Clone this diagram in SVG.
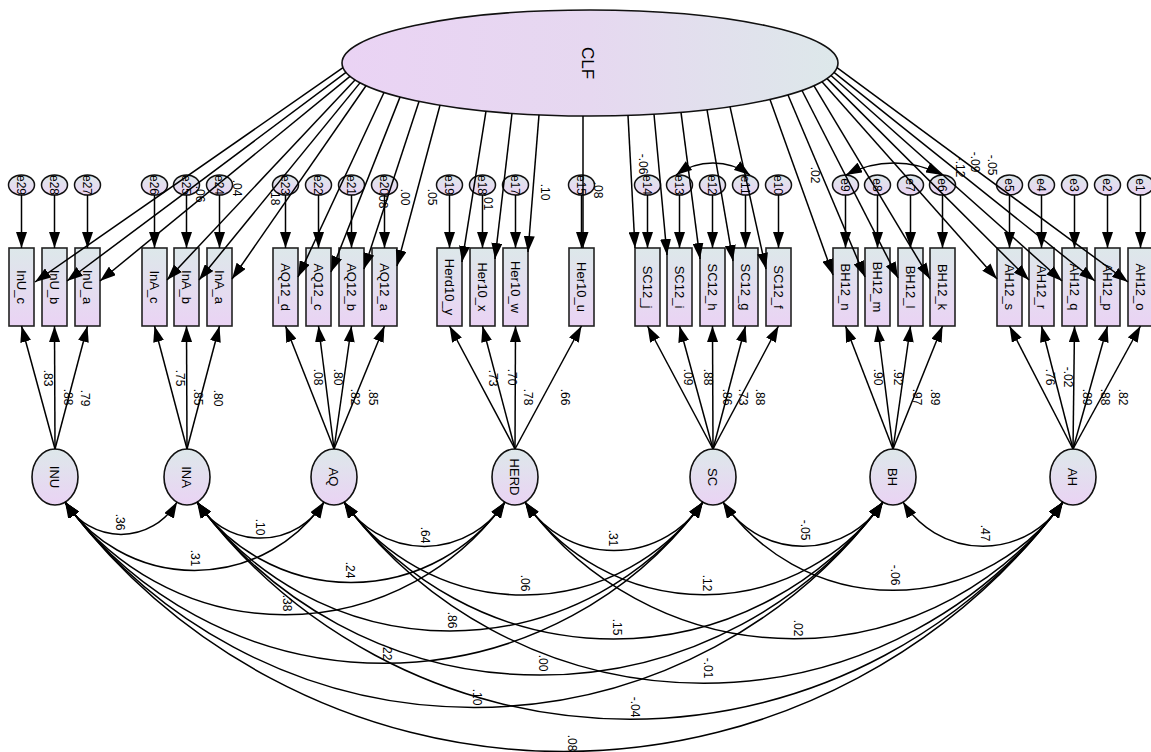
<svg xmlns="http://www.w3.org/2000/svg" width="1151" height="752" viewBox="0 0 1151 752">
<defs>
<linearGradient id="gV" x1="0" y1="0" x2="0" y2="1"><stop offset="0" stop-color="#dde8ea"/><stop offset="1" stop-color="#ead3f4"/></linearGradient>
<linearGradient id="gH" x1="0" y1="0" x2="1" y2="0"><stop offset="0" stop-color="#ead3f4"/><stop offset="0.5" stop-color="#e6d8f0"/><stop offset="1" stop-color="#dde8ea"/></linearGradient>
<marker id="ah" viewBox="0 0 16 11" refX="16" refY="5.5" markerWidth="16" markerHeight="11" markerUnits="userSpaceOnUse" orient="auto-start-reverse"><path d="M0,0 L16,5.5 L0,11 z" fill="#000"/></marker>
</defs>
<style>
.box{fill:url(#gV);stroke:#222;stroke-width:1.6}
.lat{fill:url(#gV);stroke:#111;stroke-width:1.6}
.clf{fill:url(#gH);stroke:#111;stroke-width:1.6}
.err{fill:url(#gV);stroke:#111;stroke-width:1.5}
.t{font-family:"Liberation Sans",Arial,sans-serif;font-size:13px;text-anchor:middle;fill:#000}
.big{font-family:"Liberation Sans",Arial,sans-serif;font-size:17px;text-anchor:middle;fill:#000}
.s{font-family:"Liberation Sans",Arial,sans-serif;font-size:12px;text-anchor:middle;fill:#000}
.p{fill:none;stroke:#000;stroke-width:1.5;marker-end:url(#ah)}
.c{fill:none;stroke:#000;stroke-width:1.5;marker-start:url(#ah);marker-end:url(#ah)}
</style>
<rect width="1151" height="752" fill="#fff"/>

<g id="CLF"><ellipse class="clf" cx="590" cy="63" rx="248" ry="53"/><text class="big" transform="translate(588,63) rotate(90)" dy="0.35em">CLF</text></g>

<g id="INU"><ellipse class="lat" cx="55" cy="477" rx="23" ry="28"/><text class="t" transform="translate(55,477) rotate(90)" dy="0.35em">INU</text></g>
<g id="INA"><ellipse class="lat" cx="187" cy="477" rx="23" ry="28"/><text class="t" transform="translate(187,477) rotate(90)" dy="0.35em">INA</text></g>
<g id="AQ"><ellipse class="lat" cx="334" cy="477" rx="23" ry="28"/><text class="t" transform="translate(334,477) rotate(90)" dy="0.35em">AQ</text></g>
<g id="HERD"><ellipse class="lat" cx="515" cy="477" rx="23" ry="28"/><text class="t" transform="translate(515,477) rotate(90)" dy="0.35em">HERD</text></g>
<g id="SC"><ellipse class="lat" cx="713" cy="477" rx="23" ry="28"/><text class="t" transform="translate(713,477) rotate(90)" dy="0.35em">SC</text></g>
<g id="BH"><ellipse class="lat" cx="893" cy="477" rx="23" ry="28"/><text class="t" transform="translate(893,477) rotate(90)" dy="0.35em">BH</text></g>
<g id="AH"><ellipse class="lat" cx="1073" cy="477" rx="23" ry="28"/><text class="t" transform="translate(1073,477) rotate(90)" dy="0.35em">AH</text></g>

<g id="InU_c"><rect class="box" x="9" y="248" width="25" height="78"/><text class="t" transform="translate(21.5,287) rotate(90)" dy="0.35em">InU_c</text></g>
<g id="InU_b"><rect class="box" x="42" y="248" width="25" height="78"/><text class="t" transform="translate(54.5,287) rotate(90)" dy="0.35em">InU_b</text></g>
<g id="InU_a"><rect class="box" x="75" y="248" width="25" height="78"/><text class="t" transform="translate(87.5,287) rotate(90)" dy="0.35em">InU_a</text></g>
<g id="InA_c"><rect class="box" x="142" y="248" width="25" height="78"/><text class="t" transform="translate(154.5,287) rotate(90)" dy="0.35em">InA_c</text></g>
<g id="InA_b"><rect class="box" x="174" y="248" width="25" height="78"/><text class="t" transform="translate(186.5,287) rotate(90)" dy="0.35em">InA_b</text></g>
<g id="InA_a"><rect class="box" x="207" y="248" width="25" height="78"/><text class="t" transform="translate(219.5,287) rotate(90)" dy="0.35em">InA_a</text></g>
<g id="AQ12_d"><rect class="box" x="273" y="248" width="25" height="78"/><text class="t" transform="translate(285.5,287) rotate(90)" dy="0.35em">AQ12_d</text></g>
<g id="AQ12_c"><rect class="box" x="306" y="248" width="25" height="78"/><text class="t" transform="translate(318.5,287) rotate(90)" dy="0.35em">AQ12_c</text></g>
<g id="AQ12_b"><rect class="box" x="339" y="248" width="25" height="78"/><text class="t" transform="translate(351.5,287) rotate(90)" dy="0.35em">AQ12_b</text></g>
<g id="AQ12_a"><rect class="box" x="372" y="248" width="25" height="78"/><text class="t" transform="translate(384.5,287) rotate(90)" dy="0.35em">AQ12_a</text></g>
<g id="Herd10_y"><rect class="box" x="437" y="248" width="25" height="78"/><text class="t" transform="translate(449.5,287) rotate(90)" dy="0.35em">Herd10_y</text></g>
<g id="Her10_x"><rect class="box" x="470" y="248" width="25" height="78"/><text class="t" transform="translate(482.5,287) rotate(90)" dy="0.35em">Her10_x</text></g>
<g id="Her10_w"><rect class="box" x="503" y="248" width="25" height="78"/><text class="t" transform="translate(515.5,287) rotate(90)" dy="0.35em">Her10_w</text></g>
<g id="Her10_u"><rect class="box" x="569" y="248" width="25" height="78"/><text class="t" transform="translate(581.5,287) rotate(90)" dy="0.35em">Her10_u</text></g>
<g id="SC12_j"><rect class="box" x="635" y="248" width="25" height="78"/><text class="t" transform="translate(647.5,287) rotate(90)" dy="0.35em">SC12_j</text></g>
<g id="SC12_i"><rect class="box" x="667" y="248" width="25" height="78"/><text class="t" transform="translate(679.5,287) rotate(90)" dy="0.35em">SC12_i</text></g>
<g id="SC12_h"><rect class="box" x="700" y="248" width="25" height="78"/><text class="t" transform="translate(712.5,287) rotate(90)" dy="0.35em">SC12_h</text></g>
<g id="SC12_g"><rect class="box" x="733" y="248" width="25" height="78"/><text class="t" transform="translate(745.5,287) rotate(90)" dy="0.35em">SC12_g</text></g>
<g id="SC12_f"><rect class="box" x="766" y="248" width="25" height="78"/><text class="t" transform="translate(778.5,287) rotate(90)" dy="0.35em">SC12_f</text></g>
<g id="BH12_n"><rect class="box" x="833" y="248" width="25" height="78"/><text class="t" transform="translate(845.5,287) rotate(90)" dy="0.35em">BH12_n</text></g>
<g id="BH12_m"><rect class="box" x="865" y="248" width="25" height="78"/><text class="t" transform="translate(877.5,287) rotate(90)" dy="0.35em">BH12_m</text></g>
<g id="BH12_l"><rect class="box" x="898" y="248" width="25" height="78"/><text class="t" transform="translate(910.5,287) rotate(90)" dy="0.35em">BH12_l</text></g>
<g id="BH12_k"><rect class="box" x="930" y="248" width="25" height="78"/><text class="t" transform="translate(942.5,287) rotate(90)" dy="0.35em">BH12_k</text></g>
<g id="AH12_s"><rect class="box" x="997" y="248" width="25" height="78"/><text class="t" transform="translate(1009.5,287) rotate(90)" dy="0.35em">AH12_s</text></g>
<g id="AH12_r"><rect class="box" x="1029" y="248" width="25" height="78"/><text class="t" transform="translate(1041.5,287) rotate(90)" dy="0.35em">AH12_r</text></g>
<g id="AH12_q"><rect class="box" x="1062" y="248" width="25" height="78"/><text class="t" transform="translate(1074.5,287) rotate(90)" dy="0.35em">AH12_q</text></g>
<g id="AH12_p"><rect class="box" x="1095" y="248" width="25" height="78"/><text class="t" transform="translate(1107.5,287) rotate(90)" dy="0.35em">AH12_p</text></g>
<g id="AH12_o"><rect class="box" x="1128" y="248" width="25" height="78"/><text class="t" transform="translate(1140.5,287) rotate(90)" dy="0.35em">AH12_o</text></g>

<g id="e29"><ellipse class="err" cx="21.5" cy="185" rx="13" ry="10"/><text class="s" transform="translate(21.5,185) rotate(90)" dy="0.35em">e29</text></g>
<g id="e28"><ellipse class="err" cx="54.5" cy="185" rx="13" ry="10"/><text class="s" transform="translate(54.5,185) rotate(90)" dy="0.35em">e28</text></g>
<g id="e27"><ellipse class="err" cx="87.5" cy="185" rx="13" ry="10"/><text class="s" transform="translate(87.5,185) rotate(90)" dy="0.35em">e27</text></g>
<g id="e26"><ellipse class="err" cx="154.5" cy="185" rx="13" ry="10"/><text class="s" transform="translate(154.5,185) rotate(90)" dy="0.35em">e26</text></g>
<g id="e25"><ellipse class="err" cx="186.5" cy="185" rx="13" ry="10"/><text class="s" transform="translate(186.5,185) rotate(90)" dy="0.35em">e25</text></g>
<g id="e24"><ellipse class="err" cx="219.5" cy="185" rx="13" ry="10"/><text class="s" transform="translate(219.5,185) rotate(90)" dy="0.35em">e24</text></g>
<g id="e23"><ellipse class="err" cx="285.5" cy="185" rx="13" ry="10"/><text class="s" transform="translate(285.5,185) rotate(90)" dy="0.35em">e23</text></g>
<g id="e22"><ellipse class="err" cx="318.5" cy="185" rx="13" ry="10"/><text class="s" transform="translate(318.5,185) rotate(90)" dy="0.35em">e22</text></g>
<g id="e21"><ellipse class="err" cx="351.5" cy="185" rx="13" ry="10"/><text class="s" transform="translate(351.5,185) rotate(90)" dy="0.35em">e21</text></g>
<g id="e20"><ellipse class="err" cx="384.5" cy="185" rx="13" ry="10"/><text class="s" transform="translate(384.5,185) rotate(90)" dy="0.35em">e20</text></g>
<g id="e19"><ellipse class="err" cx="449.5" cy="185" rx="13" ry="10"/><text class="s" transform="translate(449.5,185) rotate(90)" dy="0.35em">e19</text></g>
<g id="e18"><ellipse class="err" cx="482.5" cy="185" rx="13" ry="10"/><text class="s" transform="translate(482.5,185) rotate(90)" dy="0.35em">e18</text></g>
<g id="e17"><ellipse class="err" cx="515.5" cy="185" rx="13" ry="10"/><text class="s" transform="translate(515.5,185) rotate(90)" dy="0.35em">e17</text></g>
<g id="e15"><ellipse class="err" cx="581.5" cy="185" rx="13" ry="10"/><text class="s" transform="translate(581.5,185) rotate(90)" dy="0.35em">e15</text></g>
<g id="e14"><ellipse class="err" cx="647.5" cy="185" rx="13" ry="10"/><text class="s" transform="translate(647.5,185) rotate(90)" dy="0.35em">e14</text></g>
<g id="e13"><ellipse class="err" cx="679.5" cy="185" rx="13" ry="10"/><text class="s" transform="translate(679.5,185) rotate(90)" dy="0.35em">e13</text></g>
<g id="e12"><ellipse class="err" cx="712.5" cy="185" rx="13" ry="10"/><text class="s" transform="translate(712.5,185) rotate(90)" dy="0.35em">e12</text></g>
<g id="e11"><ellipse class="err" cx="745.5" cy="185" rx="13" ry="10"/><text class="s" transform="translate(745.5,185) rotate(90)" dy="0.35em">e11</text></g>
<g id="e10"><ellipse class="err" cx="778.5" cy="185" rx="13" ry="10"/><text class="s" transform="translate(778.5,185) rotate(90)" dy="0.35em">e10</text></g>
<g id="e9"><ellipse class="err" cx="845.5" cy="185" rx="13" ry="10"/><text class="s" transform="translate(845.5,185) rotate(90)" dy="0.35em">e9</text></g>
<g id="e8"><ellipse class="err" cx="877.5" cy="185" rx="13" ry="10"/><text class="s" transform="translate(877.5,185) rotate(90)" dy="0.35em">e8</text></g>
<g id="e7"><ellipse class="err" cx="910.5" cy="185" rx="13" ry="10"/><text class="s" transform="translate(910.5,185) rotate(90)" dy="0.35em">e7</text></g>
<g id="e6"><ellipse class="err" cx="942.5" cy="185" rx="13" ry="10"/><text class="s" transform="translate(942.5,185) rotate(90)" dy="0.35em">e6</text></g>
<g id="e5"><ellipse class="err" cx="1009.5" cy="185" rx="13" ry="10"/><text class="s" transform="translate(1009.5,185) rotate(90)" dy="0.35em">e5</text></g>
<g id="e4"><ellipse class="err" cx="1041.5" cy="185" rx="13" ry="10"/><text class="s" transform="translate(1041.5,185) rotate(90)" dy="0.35em">e4</text></g>
<g id="e3"><ellipse class="err" cx="1074.5" cy="185" rx="13" ry="10"/><text class="s" transform="translate(1074.5,185) rotate(90)" dy="0.35em">e3</text></g>
<g id="e2"><ellipse class="err" cx="1107.5" cy="185" rx="13" ry="10"/><text class="s" transform="translate(1107.5,185) rotate(90)" dy="0.35em">e2</text></g>
<g id="e1"><ellipse class="err" cx="1140.5" cy="185" rx="13" ry="10"/><text class="s" transform="translate(1140.5,185) rotate(90)" dy="0.35em">e1</text></g>

<g id="connectors">
<line class="p" x1="343" y1="67.7" x2="35" y2="282"/>
<line class="p" x1="346" y1="72.4" x2="67" y2="281"/>
<line class="p" x1="350" y1="76.3" x2="100" y2="281"/>
<line class="p" x1="355" y1="79.9" x2="167" y2="280"/>
<line class="p" x1="360" y1="82.9" x2="199" y2="280"/>
<line class="p" x1="366" y1="85.8" x2="232" y2="279"/>
<line class="p" x1="384" y1="92.5" x2="298" y2="277"/>
<line class="p" x1="400" y1="97.1" x2="331" y2="272"/>
<line class="p" x1="419" y1="101.4" x2="364" y2="269"/>
<line class="p" x1="440" y1="105.2" x2="397" y2="266"/>
<line class="p" x1="486" y1="111.1" x2="462" y2="262"/>
<line class="p" x1="512" y1="113.3" x2="495" y2="259"/>
<line class="p" x1="539" y1="114.9" x2="528" y2="252"/>
<line class="p" x1="583" y1="116" x2="583" y2="248"/>
<line class="p" x1="628" y1="115.4" x2="635" y2="248"/>
<line class="p" x1="654" y1="114.2" x2="667" y2="255"/>
<line class="p" x1="681" y1="112.3" x2="700" y2="259"/>
<line class="p" x1="707" y1="109.7" x2="733" y2="261"/>
<line class="p" x1="730" y1="106.7" x2="766" y2="269"/>
<line class="p" x1="770" y1="99.5" x2="833" y2="275"/>
<line class="p" x1="788" y1="95" x2="865" y2="277"/>
<line class="p" x1="802" y1="90.5" x2="898" y2="278"/>
<line class="p" x1="814" y1="85.8" x2="930" y2="279"/>
<line class="p" x1="822" y1="81.8" x2="997" y2="279"/>
<line class="p" x1="827" y1="78.6" x2="1029" y2="280"/>
<line class="p" x1="831" y1="75.5" x2="1062" y2="281"/>
<line class="p" x1="834" y1="72.4" x2="1095" y2="281"/>
<line class="p" x1="837" y1="67.7" x2="1128" y2="282"/>
<line class="p" x1="21.5" y1="195" x2="21.5" y2="248"/><line class="p" x1="54.5" y1="195" x2="54.5" y2="248"/><line class="p" x1="87.5" y1="195" x2="87.5" y2="248"/>
<line class="p" x1="154.5" y1="195" x2="154.5" y2="248"/><line class="p" x1="186.5" y1="195" x2="186.5" y2="248"/><line class="p" x1="219.5" y1="195" x2="219.5" y2="248"/>
<line class="p" x1="285.5" y1="195" x2="285.5" y2="248"/><line class="p" x1="318.5" y1="195" x2="318.5" y2="248"/><line class="p" x1="351.5" y1="195" x2="351.5" y2="248"/><line class="p" x1="384.5" y1="195" x2="384.5" y2="248"/>
<line class="p" x1="449.5" y1="195" x2="449.5" y2="248"/><line class="p" x1="482.5" y1="195" x2="482.5" y2="248"/><line class="p" x1="515.5" y1="195" x2="515.5" y2="248"/><line class="p" x1="581.5" y1="195" x2="581.5" y2="248"/>
<line class="p" x1="647.5" y1="195" x2="647.5" y2="248"/><line class="p" x1="679.5" y1="195" x2="679.5" y2="248"/><line class="p" x1="712.5" y1="195" x2="712.5" y2="248"/><line class="p" x1="745.5" y1="195" x2="745.5" y2="248"/><line class="p" x1="778.5" y1="195" x2="778.5" y2="248"/>
<line class="p" x1="845.5" y1="195" x2="845.5" y2="248"/><line class="p" x1="877.5" y1="195" x2="877.5" y2="248"/><line class="p" x1="910.5" y1="195" x2="910.5" y2="248"/><line class="p" x1="942.5" y1="195" x2="942.5" y2="248"/>
<line class="p" x1="1009.5" y1="195" x2="1009.5" y2="248"/><line class="p" x1="1041.5" y1="195" x2="1041.5" y2="248"/><line class="p" x1="1074.5" y1="195" x2="1074.5" y2="248"/><line class="p" x1="1107.5" y1="195" x2="1107.5" y2="248"/><line class="p" x1="1140.5" y1="195" x2="1140.5" y2="248"/>
<line class="p" x1="55" y1="449" x2="21.5" y2="326"/><line class="p" x1="55" y1="449" x2="54.5" y2="326"/><line class="p" x1="55" y1="449" x2="87.5" y2="326"/>
<line class="p" x1="187" y1="449" x2="154.5" y2="326"/><line class="p" x1="187" y1="449" x2="186.5" y2="326"/><line class="p" x1="187" y1="449" x2="219.5" y2="326"/>
<line class="p" x1="334" y1="449" x2="285.5" y2="326"/><line class="p" x1="334" y1="449" x2="318.5" y2="326"/><line class="p" x1="334" y1="449" x2="351.5" y2="326"/><line class="p" x1="334" y1="449" x2="384.5" y2="326"/>
<line class="p" x1="515" y1="449" x2="449.5" y2="326"/><line class="p" x1="515" y1="449" x2="482.5" y2="326"/><line class="p" x1="515" y1="449" x2="515.5" y2="326"/><line class="p" x1="515" y1="449" x2="581.5" y2="326"/>
<line class="p" x1="713" y1="449" x2="647.5" y2="326"/><line class="p" x1="713" y1="449" x2="679.5" y2="326"/><line class="p" x1="713" y1="449" x2="712.5" y2="326"/><line class="p" x1="713" y1="449" x2="745.5" y2="326"/><line class="p" x1="713" y1="449" x2="778.5" y2="326"/>
<line class="p" x1="893" y1="449" x2="845.5" y2="326"/><line class="p" x1="893" y1="449" x2="877.5" y2="326"/><line class="p" x1="893" y1="449" x2="910.5" y2="326"/><line class="p" x1="893" y1="449" x2="942.5" y2="326"/>
<line class="p" x1="1073" y1="449" x2="1009.5" y2="326"/><line class="p" x1="1073" y1="449" x2="1041.5" y2="326"/><line class="p" x1="1073" y1="449" x2="1074.5" y2="326"/><line class="p" x1="1073" y1="449" x2="1107.5" y2="326"/><line class="p" x1="1073" y1="449" x2="1140.5" y2="326"/>
<path class="c" d="M676,175 A63,63 0 0 1 750,175"/>
<path class="c" d="M846,175 A102,102 0 0 1 942,175"/>
<path class="c" d="M65,502 A64.6,64.6 0 0 0 177,502"/>
<path class="c" d="M65,502 A156.7,156.7 0 0 0 324,502"/>
<path class="c" d="M65,502 A270.9,270.9 0 0 0 505,502"/>
<path class="c" d="M65,502 A396.1,396.1 0 0 0 703,502"/>
<path class="c" d="M65,502 A509.9,509.9 0 0 0 883,502"/>
<path class="c" d="M65,502 A623.7,623.7 0 0 0 1063,502"/>
<path class="c" d="M197,502 A73.9,73.9 0 0 0 324,502"/>
<path class="c" d="M197,502 A187.6,187.6 0 0 0 505,502"/>
<path class="c" d="M197,502 A312.6,312.6 0 0 0 703,502"/>
<path class="c" d="M197,502 A426.4,426.4 0 0 0 883,502"/>
<path class="c" d="M197,502 A540.2,540.2 0 0 0 1063,502"/>
<path class="c" d="M344,502 A95.2,95.2 0 0 0 505,502"/>
<path class="c" d="M344,502 A219.7,219.7 0 0 0 703,502"/>
<path class="c" d="M344,502 A333.6,333.6 0 0 0 883,502"/>
<path class="c" d="M344,502 A447.2,447.2 0 0 0 1063,502"/>
<path class="c" d="M525,502 A105.8,105.8 0 0 0 703,502"/>
<path class="c" d="M525,502 A219.2,219.2 0 0 0 883,502"/>
<path class="c" d="M525,502 A332.9,332.9 0 0 0 1063,502"/>
<path class="c" d="M723,502 A94.5,94.5 0 0 0 883,502"/>
<path class="c" d="M723,502 A207.8,207.8 0 0 0 1063,502"/>
<path class="c" d="M903,502 A94.5,94.5 0 0 0 1063,502"/>
</g>

<g id="labels">
<text class="s" transform="translate(48,378) rotate(90)" dy="0.35em">.83</text>
<text class="s" transform="translate(68,397) rotate(90)" dy="0.35em">.88</text>
<text class="s" transform="translate(85,398) rotate(90)" dy="0.35em">.79</text>
<text class="s" transform="translate(180,378) rotate(90)" dy="0.35em">.75</text>
<text class="s" transform="translate(198,397) rotate(90)" dy="0.35em">.85</text>
<text class="s" transform="translate(218,398) rotate(90)" dy="0.35em">.80</text>
<text class="s" transform="translate(318,377) rotate(90)" dy="0.35em">.08</text>
<text class="s" transform="translate(338,377) rotate(90)" dy="0.35em">.80</text>
<text class="s" transform="translate(355,397) rotate(90)" dy="0.35em">.82</text>
<text class="s" transform="translate(373,397) rotate(90)" dy="0.35em">.85</text>
<text class="s" transform="translate(493,378) rotate(90)" dy="0.35em">.73</text>
<text class="s" transform="translate(512,377) rotate(90)" dy="0.35em">.70</text>
<text class="s" transform="translate(528,397) rotate(90)" dy="0.35em">.78</text>
<text class="s" transform="translate(565,397) rotate(90)" dy="0.35em">.66</text>
<text class="s" transform="translate(688,377) rotate(90)" dy="0.35em">.09</text>
<text class="s" transform="translate(708,377) rotate(90)" dy="0.35em">.88</text>
<text class="s" transform="translate(727,397) rotate(90)" dy="0.35em">.86</text>
<text class="s" transform="translate(743,397) rotate(90)" dy="0.35em">.73</text>
<text class="s" transform="translate(760,397) rotate(90)" dy="0.35em">.88</text>
<text class="s" transform="translate(878,377) rotate(90)" dy="0.35em">.90</text>
<text class="s" transform="translate(898,377) rotate(90)" dy="0.35em">.92</text>
<text class="s" transform="translate(917,397) rotate(90)" dy="0.35em">.97</text>
<text class="s" transform="translate(935,397) rotate(90)" dy="0.35em">.89</text>
<text class="s" transform="translate(1050,377) rotate(90)" dy="0.35em">.76</text>
<text class="s" transform="translate(1068,377) rotate(90)" dy="0.35em">-.02</text>
<text class="s" transform="translate(1087,397) rotate(90)" dy="0.35em">.89</text>
<text class="s" transform="translate(1105,397) rotate(90)" dy="0.35em">.88</text>
<text class="s" transform="translate(1123,397) rotate(90)" dy="0.35em">.82</text>
<text class="s" transform="translate(120,522) rotate(90)" dy="0.35em">.36</text>
<text class="s" transform="translate(260,527) rotate(90)" dy="0.35em">.10</text>
<text class="s" transform="translate(425,535) rotate(90)" dy="0.35em">.64</text>
<text class="s" transform="translate(613,538) rotate(90)" dy="0.35em">.31</text>
<text class="s" transform="translate(805,530) rotate(90)" dy="0.35em">-.05</text>
<text class="s" transform="translate(985,533) rotate(90)" dy="0.35em">.47</text>
<text class="s" transform="translate(195,558) rotate(90)" dy="0.35em">.31</text>
<text class="s" transform="translate(350,570) rotate(90)" dy="0.35em">.24</text>
<text class="s" transform="translate(525,583) rotate(90)" dy="0.35em">.06</text>
<text class="s" transform="translate(707,583) rotate(90)" dy="0.35em">.12</text>
<text class="s" transform="translate(895,575) rotate(90)" dy="0.35em">-.06</text>
<text class="s" transform="translate(287,603) rotate(90)" dy="0.35em">.38</text>
<text class="s" transform="translate(452,620) rotate(90)" dy="0.35em">.86</text>
<text class="s" transform="translate(617,627) rotate(90)" dy="0.35em">.15</text>
<text class="s" transform="translate(798,628) rotate(90)" dy="0.35em">.02</text>
<text class="s" transform="translate(387,652) rotate(90)" dy="0.35em">.22</text>
<text class="s" transform="translate(543,663) rotate(90)" dy="0.35em">.00</text>
<text class="s" transform="translate(708,668) rotate(90)" dy="0.35em">-.01</text>
<text class="s" transform="translate(477,697) rotate(90)" dy="0.35em">.10</text>
<text class="s" transform="translate(635,707) rotate(90)" dy="0.35em">-.04</text>
<text class="s" transform="translate(572,743) rotate(90)" dy="0.35em">.08</text>
<text class="s" transform="translate(200,194) rotate(90)" dy="0.35em">.06</text>
<text class="s" transform="translate(237,188) rotate(90)" dy="0.35em">.04</text>
<text class="s" transform="translate(275,197) rotate(90)" dy="0.35em">.18</text>
<text class="s" transform="translate(383,200) rotate(90)" dy="0.35em">.08</text>
<text class="s" transform="translate(405,197) rotate(90)" dy="0.35em">.00</text>
<text class="s" transform="translate(432,197) rotate(90)" dy="0.35em">.05</text>
<text class="s" transform="translate(488,202) rotate(90)" dy="0.35em">.01</text>
<text class="s" transform="translate(545,192) rotate(90)" dy="0.35em">.10</text>
<text class="s" transform="translate(598,190) rotate(90)" dy="0.35em">.08</text>
<text class="s" transform="translate(643,164) rotate(90)" dy="0.35em">-.06</text>
<text class="s" transform="translate(815,175) rotate(90)" dy="0.35em">.02</text>
<text class="s" transform="translate(992,165) rotate(90)" dy="0.35em">-.05</text>
<text class="s" transform="translate(975,162) rotate(90)" dy="0.35em">-.09</text>
<text class="s" transform="translate(960,167) rotate(90)" dy="0.35em">-.12</text>
</g>
</svg>
